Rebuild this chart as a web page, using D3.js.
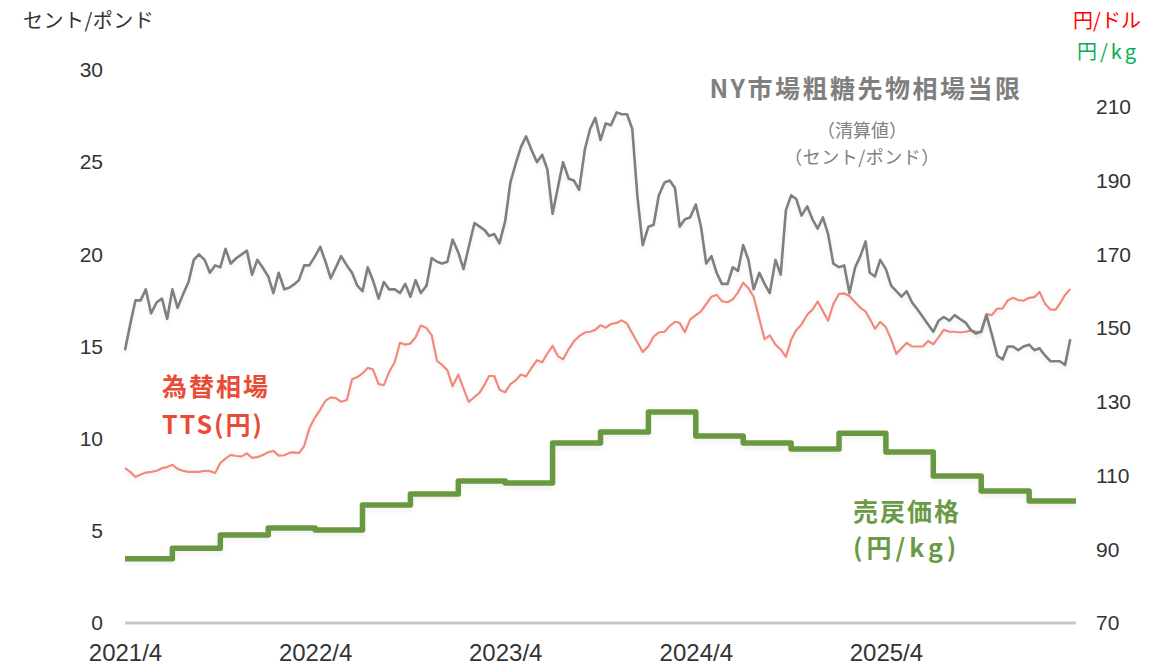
<!DOCTYPE html>
<html>
<head>
<meta charset="utf-8">
<script src="https://cdn.jsdelivr.net/npm/d3@7"></script>
<style>
  body { margin: 0; background: #fff; }
  svg { display: block; }
</style>
</head>
<body>
<svg id="chart" width="1170" height="666"></svg>
<script>
// months of the daily series, three readings per month (1st, 11th, 21st)
const months = [
  "2021-04","2021-05","2021-06","2021-07","2021-08","2021-09","2021-10","2021-11","2021-12",
  "2022-01","2022-02","2022-03","2022-04","2022-05","2022-06","2022-07","2022-08","2022-09","2022-10","2022-11","2022-12",
  "2023-01","2023-02","2023-03","2023-04","2023-05","2023-06","2023-07","2023-08","2023-09","2023-10","2023-11","2023-12",
  "2024-01","2024-02","2024-03","2024-04","2024-05","2024-06","2024-07","2024-08","2024-09","2024-10","2024-11","2024-12",
  "2025-01","2025-02","2025-03","2025-04","2025-05","2025-06","2025-07","2025-08","2025-09","2025-10","2025-11","2025-12",
  "2026-01","2026-02","2026-03"
];
const sampleDays = [1, 11, 21];

// NY raw sugar futures, front month (cents/lb)
const sugar = [
  [14.8,16.2,17.5],[17.5,18.1,16.8],[17.4,17.6,16.5],[18.1,17.1,17.8],[18.5,19.7,20.0],[19.7,19.0,19.4],
  [19.3,20.3,19.5],[19.8,20.0,20.2],[18.9,19.7,19.3],[18.8,17.9,19.0],[18.1,18.2,18.4],[18.6,19.4,19.4],
  [19.9,20.4,19.6],[18.7,19.3,19.9],[19.4,19.0,18.3],[18.0,19.3,18.6],[17.6,18.5,18.1],[18.1,17.9,18.4],
  [17.7,18.6,17.9],[18.3,19.8,19.6],[19.5,19.6,20.8],[20.1,19.2,20.4],[21.7,21.5,21.3],[21.0,21.1,20.6],
  [21.8,23.9,24.9],[25.8,26.4,25.7],[25.0,25.4,24.6],[22.2,23.6,25.0],[24.1,24.0,23.5],[25.7,26.8,27.4],
  [26.2,27.1,27.0],[27.7,27.6,27.6],[26.8,23.1,20.5],[21.5,21.6,23.2],[23.9,24.0,23.6],[21.5,21.9,22.0],
  [22.7,21.5,19.5],[19.9,19.0,18.4],[18.4,19.3,19.1],[20.5,19.7,18.1],[19.0,18.4,17.9],[19.7,18.9,22.4],
  [23.2,23.0,22.1],[22.6,21.9,21.4],[22.0,21.1,19.5],[19.3,19.4,17.9],[19.3,19.9,20.7],[19.0,18.8,19.7],
  [19.2,18.3,18.0],[17.7,18.0,17.4],[17.0,16.6,16.2],[15.8,16.4,16.6],[16.4,16.7,16.5],[16.3,15.9,15.7],
  [15.8,16.7,15.7],[14.5,14.3,15.0],[15.0,14.8,15.0],[15.1,14.8,14.9],[14.5,14.2,14.2],[14.2,14.0,15.4]
];

// TTS exchange rate (yen/dollar)
const tts = [
  [112.0,111.0,109.6],[110.3,110.8,111.0],[111.3,112.0,112.3],[112.9,111.8,111.3],[111.0,111.0,111.0],[111.3,111.2,110.7],
  [113.4,114.6,115.6],[115.3,115.2,116.0],[114.8,115.0,115.5],[116.3,116.7,115.4],[115.5,116.2,116.3],[116.1,118.0,122.8],
  [125.8,127.9,130.3],[131.2,131.0,130.0],[130.5,136.1,136.7],[137.7,139.2,138.8],[134.8,134.5,138.0],[140.8,146.0,145.5],
  [145.8,147.5,150.7],[150.0,148.0,141.1],[140.0,138.6,134.2],[137.4,133.6,130.0],[131.3,132.5,134.8],[137.0,137.0,133.3],
  [132.6,134.8,135.8],[137.4,136.9,139.1],[141.3,140.7,143.1],[145.2,142.4,141.5],[144.3,146.4,147.8],[148.8,149.0,149.5],
  [150.8,150.1,151.1],[151.4,152.1,151.2],[148.6,146.1,143.5],[145.1,147.7,148.8],[149.0,150.6,151.7],[151.4,148.9,152.3],
  [153.5,154.5,156.5],[158.5,159.0,157.3],[157.0,157.8,159.7],[162.3,160.8,158.5],[152.5,147.0,148.0],[145.5,144.2,142.2],
  [146.8,149.5,151.0],[153.6,155.0,157.2],[154.6,152.0,156.5],[159.3,159.4,158.7],[157.0,155.5,154.5],[152.5,149.8,151.7],
  [150.2,147.0,143.0],[144.5,146.0,145.0],[145.0,145.0,146.5],[145.6,147.5,149.5],[149.0,149.0,148.8],[149.0,149.3,149.0],
  [149.0,153.8,153.5],[155.3,155.3,157.5],[158.2,157.6,157.4],[158.2,158.4,159.8],[156.5,155.0,155.0],[156.6,159.0,160.6]
];

// resale price per quarter (yen/kg)
const quarters = [
  "2021-04","2021-07","2021-10","2022-01","2022-04","2022-07","2022-10","2023-01","2023-04","2023-07",
  "2023-10","2024-01","2024-04","2024-07","2024-10","2025-01","2025-04","2025-07","2025-10","2026-01"
];
const resale = [87.4, 90.3, 93.9, 95.8, 95.2, 102.0, 105.0, 108.5, 108.0, 118.8,
                121.8, 127.2, 120.7, 118.8, 117.2, 121.5, 116.4, 109.9, 105.8, 103.1];

const xTicks     = ["2021-04","2022-04","2023-04","2024-04","2025-04"];
const leftTicks  = [0, 5, 10, 15, 20, 25, 30];
const rightTicks = [70, 90, 110, 130, 150, 170, 190, 210];

const parseMonth = d3.timeParse("%Y-%m");
const svg = d3.select("#chart");
const JP  = "'Noto Sans CJK JP', sans-serif";
const NUM = "'Liberation Sans', Arial, sans-serif";

const x  = d3.scaleTime().domain([parseMonth("2021-04"), parseMonth("2026-04")]).range([125, 1076]);
const yL = d3.scaleLinear().domain([0, 30]).range([623, 70]);
const yR = d3.scaleLinear().domain([70, 220]).range([623, 70]);

// flatten month x day readings into dated points
function daily(rows) {
  const out = [];
  rows.forEach((vals, i) => {
    const m = parseMonth(months[i]);
    vals.forEach((v, j) => out.push({ date: new Date(m.getFullYear(), m.getMonth(), sampleDays[j]), value: v }));
  });
  return out;
}
const sugarData = daily(sugar);
const ttsData   = daily(tts);
const resaleData = quarters.map((q, i) => ({ date: parseMonth(q), value: resale[i] }));
resaleData.push({ date: parseMonth("2026-04"), value: resale[resale.length - 1] });

// soft shadow under the lines
const defs = svg.append("defs");
defs.append("filter").attr("id", "soft")
    .attr("x", "-5%").attr("y", "-5%").attr("width", "110%").attr("height", "120%")
  .append("feDropShadow")
    .attr("dx", 0).attr("dy", 3).attr("stdDeviation", 2)
    .attr("flood-color", "#000").attr("flood-opacity", 0.06);

// baseline
svg.append("line")
    .attr("x1", x.range()[0]).attr("x2", x.range()[1])
    .attr("y1", yL(0)).attr("y2", yL(0))
    .attr("stroke", "#cbc6c6").attr("stroke-width", 3);

// left axis
svg.append("g")
    .attr("transform", `translate(${x.range()[0]},0)`)
    .call(d3.axisLeft(yL).tickValues(leftTicks).tickSize(0).tickPadding(22))
    .call(g => g.select(".domain").remove())
    .call(g => g.selectAll("text").attr("font-family", NUM).attr("font-size", 21).attr("fill", "#333"));

// right axis
svg.append("g")
    .attr("transform", `translate(${x.range()[1]},0)`)
    .call(d3.axisRight(yR).tickValues(rightTicks).tickSize(0).tickPadding(20))
    .call(g => g.select(".domain").remove())
    .call(g => g.selectAll("text").attr("font-family", NUM).attr("font-size", 21).attr("fill", "#333"));

// bottom axis
svg.append("g")
    .attr("transform", `translate(0,${yL(0)})`)
    .call(d3.axisBottom(x).tickValues(xTicks.map(parseMonth)).tickSize(0).tickPadding(21)
      .tickFormat(d3.timeFormat("%Y/%-m")))
    .call(g => g.select(".domain").remove())
    .call(g => g.selectAll("text").attr("font-family", NUM).attr("font-size", 24).attr("fill", "#333"));

// lines
const lineL = d3.line().x(d => x(d.date)).y(d => yL(d.value));
const lineR = d3.line().x(d => x(d.date)).y(d => yR(d.value));
const stepR = d3.line().curve(d3.curveStepAfter).x(d => x(d.date)).y(d => yR(d.value));

svg.append("path")
    .datum(resaleData)
    .attr("fill", "none")
    .attr("stroke", "#67993f")
    .attr("stroke-width", 5.5)
    .attr("stroke-linejoin", "round")
    .attr("filter", "url(#soft)")
    .attr("d", stepR);

svg.append("path")
    .datum(ttsData)
    .attr("fill", "none")
    .attr("stroke", "#f2897b")
    .attr("stroke-width", 2.2)
    .attr("stroke-linejoin", "round")
    .attr("filter", "url(#soft)")
    .attr("d", lineR);

svg.append("path")
    .datum(sugarData)
    .attr("fill", "none")
    .attr("stroke", "#7f7f7f")
    .attr("stroke-width", 2.6)
    .attr("stroke-linejoin", "round")
    .attr("filter", "url(#soft)")
    .attr("d", lineL);

// unit labels
function label(txt, xx, yy, opts) {
  return svg.append("text")
      .attr("x", xx).attr("y", yy)
      .attr("font-family", JP)
      .attr("font-size", opts.size)
      .attr("font-weight", opts.weight || 400)
      .attr("fill", opts.color)
      .attr("text-anchor", opts.anchor || "start")
      .attr("letter-spacing", opts.spacing || 0)
      .text(txt);
}
label("セント/ポンド", 23, 28, { size: 20, color: "#333", spacing: 0.5 });
label("円/ドル", 1107, 28, { size: 20, color: "#ff0000", anchor: "middle" });
label("円/kg", 1108, 59, { size: 20, color: "#00b050", anchor: "middle", spacing: 3 });

// series annotations
label("NY市場粗糖先物相場当限", 866, 98, { size: 25, weight: 700, color: "#7f7f7f", anchor: "middle", spacing: 2.5 });
label("（清算値）", 862, 137, { size: 18, color: "#808080", anchor: "middle" });
label("（セント/ポンド）", 862, 164, { size: 18, color: "#808080", anchor: "middle", spacing: 0.5 });

label("為替相場", 162, 396, { size: 25, weight: 700, color: "#e94b35", spacing: 2 });
label("TTS(円)", 162, 434, { size: 25, weight: 700, color: "#e94b35", spacing: 2 });

label("売戻価格", 853, 521, { size: 25, weight: 700, color: "#6a9a45", spacing: 2 });
label("(円/kg)", 853, 557, { size: 25, weight: 700, color: "#6a9a45", spacing: 4 });
</script>
</body>
</html>
